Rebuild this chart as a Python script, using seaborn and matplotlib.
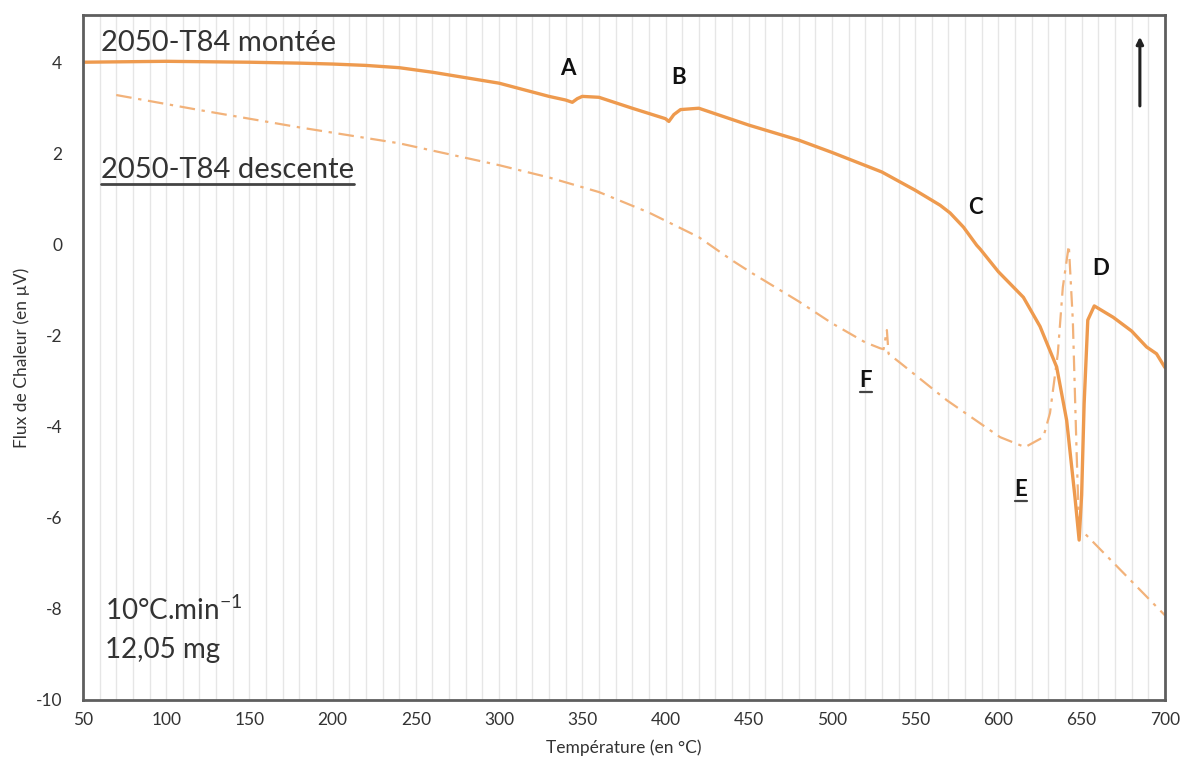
import numpy as np
import pandas as pd
import matplotlib
matplotlib.use("Agg")
import matplotlib.pyplot as plt
from matplotlib.lines import Line2D
import seaborn as sns

# ---- data ----
mont_T = [50, 100, 150, 180, 200, 220, 240, 260, 280, 300, 330, 340, 344, 347, 350,
          360, 380, 400, 402, 405, 409, 420, 450, 480, 500, 530, 550, 565, 571, 579,
          587, 589, 600, 615, 625, 635, 641, 646, 648.5, 650, 651.5, 653.7, 657.6,
          669, 680, 689, 695, 700]
mont_F = [4.0, 4.02, 4.0, 3.98, 3.96, 3.93, 3.88, 3.78, 3.66, 3.54, 3.25, 3.17,
          3.12, 3.2, 3.25, 3.23, 2.99, 2.76, 2.70, 2.85, 2.96, 2.99, 2.62, 2.29,
          2.02, 1.59, 1.19, 0.86, 0.69, 0.38, -0.02, -0.1, -0.6, -1.16, -1.8, -2.69,
          -3.86, -5.55, -6.49, -5.5, -3.5, -1.66, -1.35, -1.6, -1.9, -2.25, -2.4,
          -2.7]

desc_T = [70, 120, 180, 240, 300, 330, 360, 390, 420, 440, 452, 480, 500, 520, 529,
          531, 533, 534, 541, 569, 601, 616, 627, 631, 635.7, 638.7, 642.3, 644.7,
          647, 648.5, 652, 700]
desc_F = [3.28, 2.95, 2.57, 2.22, 1.74, 1.47, 1.15, 0.7, 0.16, -0.35, -0.63, -1.25,
          -1.73, -2.15, -2.28, -2.3, -1.88, -2.4, -2.6, -3.42, -4.23, -4.45, -4.23,
          -3.7, -2.39, -0.94, -0.02, -1.66, -4.58, -6.3, -6.35, -8.14]

x_ticks = list(range(50, 701, 50))
y_ticks = list(range(-10, 5, 2))

series_mont = "2050-T84 montée"
series_desc = "2050-T84 descente"
x_label = "Température (en °C)"
y_label = "Flux de Chaleur (en µV)"

# ---- style ----
sns.set_theme(style="white")
plt.rcParams['font.family'] = ['Lato', 'DejaVu Sans']
plt.rcParams['axes.unicode_minus'] = False

fig = plt.figure(figsize=(11.85, 7.65), dpi=100)
ax = fig.add_axes([0.070, 0.085, 0.913, 0.895])

df_m = pd.DataFrame({"T": mont_T, "F": mont_F})
df_d = pd.DataFrame({"T": desc_T, "F": desc_F})

sns.lineplot(data=df_d, x="T", y="F", ax=ax, sort=False, estimator=None,
             color="#F2B27A", linewidth=1.6, linestyle=(0, (7, 3, 1.5, 3)))
sns.lineplot(data=df_m, x="T", y="F", ax=ax, sort=False, estimator=None,
             color="#EE9A4E", linewidth=2.4)

ax.set_xlim(50, 700)
ax.set_ylim(-10, 5.03)
ax.set_xticks(x_ticks)
ax.set_yticks(y_ticks)
ax.set_xticks(np.arange(50, 701, 10), minor=True)
ax.xaxis.grid(True, which="both", color="#E6E6E6", linewidth=1.0)
ax.yaxis.grid(False)
ax.set_axisbelow(True)
ax.tick_params(axis="both", which="both", length=0, labelsize=12.5, colors="#333333")
ax.tick_params(axis="y", pad=15)
ax.tick_params(axis="x", pad=9)
for s in ax.spines.values():
    s.set_visible(True)
    s.set_color("#5E5E5E")
    s.set_linewidth(2.0)

ax.set_xlabel(x_label, fontsize=12.5, color="#333333", labelpad=8)
ax.set_ylabel(y_label, fontsize=12.5, color="#333333", labelpad=4)

# series labels
t1 = ax.text(0.0165, 0.978, series_mont, transform=ax.transAxes, fontsize=21,
             color="#333333", ha="left", va="top")
t2 = ax.text(0.0165, 0.774, series_desc, transform=ax.transAxes, fontsize=21,
             color="#333333", ha="left", va="center")

# annotation letters
letters = [("A", 341.4, 3.87, False), ("B", 408, 3.67, False),
           ("C", 585.9, 0.8, False), ("D", 661.6, -0.52, False),
           ("F", 520.4, -2.98, True), ("E", 613.5, -5.39, True)]
letter_texts = []
for lab, lx, ly, ul in letters:
    t = ax.text(lx, ly, lab, fontsize=16, fontweight="bold", color="#111111",
                ha="center", va="center")
    letter_texts.append((t, ul))

ax.text(63, -8.03, "10°C.min$^{\\mathregular{-1}}$", fontsize=20, color="#333333",
        ha="left", va="center")
ax.text(63, -8.9, "12,05 mg", fontsize=20, color="#333333",
        ha="left", va="center")

# direction arrow
ax.annotate("", xy=(685, 4.62), xytext=(685, 2.98),
            arrowprops=dict(arrowstyle="-|>", color="#222222", lw=2.2,
                            mutation_scale=10))

# underlines
fig.canvas.draw()
r = fig.canvas.get_renderer()
def underline(t, lw, off=3):
    bb = t.get_window_extent(renderer=r)
    y = bb.y0 - off
    fx0, fy = fig.transFigure.inverted().transform((bb.x0, y))
    fx1, _ = fig.transFigure.inverted().transform((bb.x1, y))
    fig.add_artist(Line2D([fx0, fx1], [fy, fy], color="#444444", lw=lw,
                          transform=fig.transFigure))
underline(t2, 2.0, off=1)
for t, ul in letter_texts:
    if ul:
        underline(t, 1.6, off=1)

fig.savefig("out.png", dpi=100)
